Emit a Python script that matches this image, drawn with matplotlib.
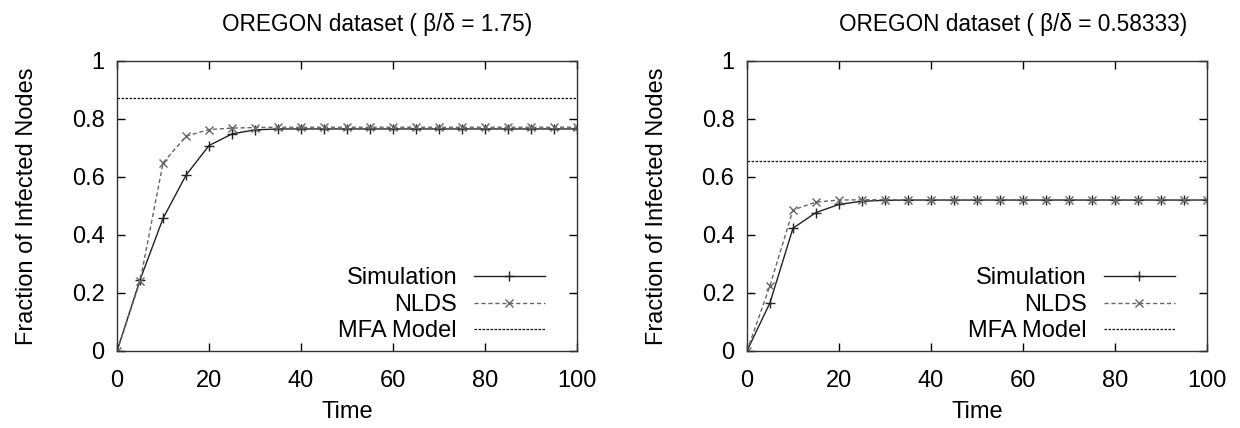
import numpy as np
import matplotlib
matplotlib.use("Agg")
import matplotlib.pyplot as plt

plt.rcParams['font.family'] = ['Liberation Sans', 'DejaVu Sans']

# time steps
t = [0, 5, 10, 15, 20, 25, 30, 35, 40, 45, 50, 55, 60, 65, 70, 75, 80, 85, 90, 95, 100]

# beta/delta = 1.75
sim_a = [0, 0.245, 0.457, 0.606, 0.708, 0.748, 0.762, 0.765, 0.765, 0.765, 0.765,
         0.765, 0.765, 0.765, 0.765, 0.765, 0.765, 0.765, 0.765, 0.765, 0.765]
nlds_a = [0, 0.24, 0.648, 0.74, 0.763, 0.768, 0.77, 0.771, 0.771, 0.771, 0.771,
          0.771, 0.771, 0.771, 0.771, 0.771, 0.771, 0.771, 0.771, 0.771, 0.771]
mfa_a = 0.872

# beta/delta = 0.58333
sim_b = [0, 0.166, 0.423, 0.477, 0.505, 0.516, 0.519, 0.52, 0.52, 0.52, 0.52,
         0.52, 0.52, 0.52, 0.52, 0.52, 0.52, 0.52, 0.52, 0.52, 0.52]
nlds_b = [0, 0.225, 0.486, 0.513, 0.52, 0.521, 0.521, 0.521, 0.521, 0.521, 0.521,
          0.521, 0.521, 0.521, 0.521, 0.521, 0.521, 0.521, 0.521, 0.521, 0.521]
mfa_b = 0.655

titles = ['OREGON dataset ( β/δ = 1.75)', 'OREGON dataset ( β/δ = 0.58333)']
title_right = [0.902, 0.957]

fig = plt.figure(figsize=(12.4, 4.28), dpi=100)
ax1 = fig.add_axes([0.0944, 0.18, 0.371, 0.678])
ax2 = fig.add_axes([0.6024, 0.18, 0.371, 0.678])

for ax, sim, nlds, mfa, title, tx in [(ax1, sim_a, nlds_a, mfa_a, titles[0], title_right[0]),
                                       (ax2, sim_b, nlds_b, mfa_b, titles[1], title_right[1])]:
    ax.plot(t, sim, color='#222222', lw=1.0, marker='+', ms=7, mew=1.0,
            label='Simulation')
    ax.plot(t, nlds, color='#666666', lw=1.0, ls=(0, (3, 2)), marker='x', ms=6,
            mew=1.0, label='NLDS')
    ax.plot([0, 100], [mfa, mfa], color='#111111', lw=0.9, ls=(0, (2, 1.2)),
            label='MFA Model')
    ax.set_xlim(0, 100)
    ax.set_ylim(0, 1)
    ax.set_xticks([0, 20, 40, 60, 80, 100])
    ax.set_yticks([0, 0.2, 0.4, 0.6, 0.8, 1])
    ax.set_yticklabels(['0', '0.2', '0.4', '0.6', '0.8', '1'])
    ax.tick_params(direction='in', top=True, right=True, length=6, width=1,
                   labelsize=17, pad=9)
    ax.tick_params(axis='x', pad=14)
    for s in ax.spines.values():
        s.set_linewidth(1.0)
        s.set_color('#333333')
    ax.set_xlabel('Time', fontsize=17, labelpad=6)
    ax.set_ylabel('Fraction of Infected Nodes', fontsize=17, labelpad=24)
    ax.text(tx, 1.0 + 30 / 290, title, transform=ax.transAxes, ha='right',
            va='baseline', fontsize=16.3)
    ax.legend(loc='lower right', bbox_to_anchor=(0.93, 0.03), frameon=False,
              markerfirst=False, fontsize=17, handlelength=3.0,
              labelspacing=0.19, borderaxespad=0, borderpad=0,
              handletextpad=0.72)

fig.savefig('out.png', dpi=100)
